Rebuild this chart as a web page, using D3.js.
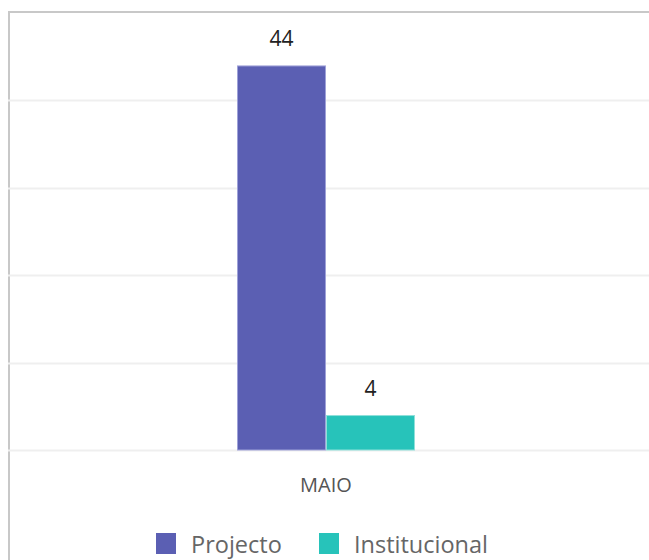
<!DOCTYPE html>
<html>
<head>
<meta charset="utf-8">
<script src="https://cdn.jsdelivr.net/npm/d3@7"></script>
<style>
  body { margin: 0; background: #fff; }
  svg { display: block; font-family: "Open Sans", "Noto Sans", sans-serif; }
</style>
</head>
<body>
<div id="chart"></div>
<script>
var categories = ["MAIO"];
var seriesNames = ["Projecto", "Institucional"];
var projecto = [44];
var institucional = [4];
var yTicks = [0, 10, 20, 30, 40, 50];

var colors = ["#5b5fb3", "#27c3ba"];
var strokes = ["#9fa2d8", "#8fe0da"];

var width = 649, height = 560;
var margin = { top: 13, right: 5, bottom: 110, left: 8 };
var plotW = width - margin.left - margin.right,
    plotH = height - margin.top - margin.bottom;

var svg = d3.select("#chart").append("svg")
  .attr("width", width)
  .attr("height", height);

// frame of the widget
svg.append("path")
  .attr("d", "M9,560 V12 H649")
  .attr("fill", "none")
  .attr("stroke", "#c8c8c8")
  .attr("stroke-width", 2);

var g = svg.append("g")
  .attr("transform", "translate(" + margin.left + "," + margin.top + ")");

var x0 = d3.scaleBand()
  .domain(categories)
  .range([0, plotW]);

var x1 = d3.scaleBand()
  .domain(seriesNames)
  .range([x0.bandwidth() / 2 - 89, x0.bandwidth() / 2 + 89]);

var y = d3.scaleLinear()
  .domain([0, 50])
  .range([plotH, 0]);

// grid
g.append("g")
  .selectAll("line")
  .data(yTicks.slice(0, 5))
  .enter().append("line")
  .attr("x1", 0)
  .attr("x2", width - margin.left)
  .attr("y1", function (d) { return Math.round(y(d)) + 0.5; })
  .attr("y2", function (d) { return Math.round(y(d)) + 0.5; })
  .attr("stroke", "#efefef")
  .attr("stroke-width", 2);

var rows = categories.map(function (c, i) {
  return { cat: c, values: [projecto[i], institucional[i]] };
});

var groups = g.selectAll(".cat")
  .data(rows)
  .enter().append("g")
  .attr("class", "cat")
  .attr("transform", function (d) { return "translate(" + x0(d.cat) + ",0)"; });

groups.selectAll("rect")
  .data(function (d) { return d.values.map(function (v, i) { return { key: seriesNames[i], v: v, i: i }; }); })
  .enter().append("rect")
  .attr("x", function (d) { return x1(d.key) + 0.5; })
  .attr("y", function (d) { return y(d.v) + 0.5; })
  .attr("width", x1.bandwidth() - 1)
  .attr("height", function (d) { return plotH - y(d.v) - 0.5; })
  .attr("fill", function (d) { return colors[d.i]; })
  .attr("stroke", function (d) { return strokes[d.i]; })
  .attr("stroke-width", 1);

groups.selectAll(".val")
  .data(function (d) { return d.values.map(function (v, i) { return { key: seriesNames[i], v: v }; }); })
  .enter().append("text")
  .attr("class", "val")
  .attr("x", function (d) { return x1(d.key) + x1.bandwidth() / 2; })
  .attr("y", function (d) { return y(d.v) - 19; })
  .attr("text-anchor", "middle")
  .style("font-size", "21px")
  .style("fill", "#222")
  .text(function (d) { return d.v; });

// category axis label
g.append("g")
  .selectAll("text")
  .data(categories)
  .enter().append("text")
  .attr("x", function (d) { return x0(d) + x0.bandwidth() / 2; })
  .attr("y", plotH + 42)
  .attr("text-anchor", "middle")
  .style("font-size", "20px")
  .style("fill", "#555")
  .text(function (d) { return d; });

// legend
var legend = svg.append("g").attr("transform", "translate(0,533)");
var legendX = [156, 319];
seriesNames.forEach(function (name, i) {
  legend.append("rect")
    .attr("x", legendX[i])
    .attr("y", 0)
    .attr("width", 20)
    .attr("height", 21)
    .attr("fill", colors[i]);
  legend.append("text")
    .attr("x", legendX[i] + 35)
    .attr("y", 20)
    .style("font-size", "23.5px")
    .style("fill", "#666")
    .text(name);
});
</script>
</body>
</html>
